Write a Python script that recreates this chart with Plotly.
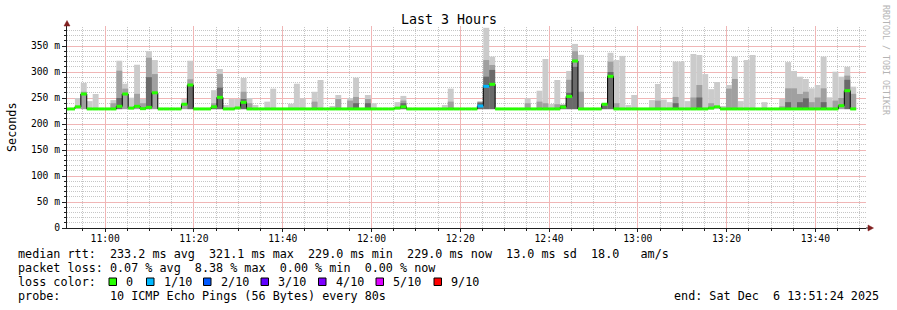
import math
import plotly.graph_objects as go
import pandas as pd

# ---------------- data ----------------
START = "2025-12-06 10:50:31"      # start of first (partial) 80 s step
STEP_S = 80
X_RANGE = ["2025-12-06 10:51:24", "2025-12-06 13:51:24"]
N_PINGS = 10

# median rtt per step (ms); first value is the partial step at the left edge
median_ms = [
    229.0,
    229.0, 233.0, 257.7, 229.0, 229.0, 229.0, 229.0, 229.0, 234.0, 257.7,
    230.5, 234.0, 229.5, 232.0, 260.0, 229.0, 229.0, 229.0, 229.0, 238.0,
    275.0, 229.0, 229.0, 229.0, 233.0, 251.3, 229.0, 229.0, 230.8, 241.7,
    229.0, 229.0, 229.0, 229.0, 229.0, 229.0, 229.0, 229.0, 229.0, 229.0,
    229.0, 229.0, 229.0, 229.0, 229.0, 229.0, 229.0, 229.0, 229.0, 229.0,
    229.0, 229.0, 229.0, 229.0, 229.0, 230.5, 233.0, 229.0, 229.0, 229.0,
    229.0, 229.0, 229.0, 229.0, 229.0, 229.0, 229.0, 229.0, 229.0, 234.6,
    272.5, 276.3, 229.0, 229.0, 229.0, 229.0, 229.0, 229.0, 229.0, 229.0,
    229.0, 229.0, 229.0, 232.5, 253.0, 321.1, 229.0, 229.0, 229.0, 229.0,
    238.0, 291.7, 229.0, 229.0, 229.0, 229.0, 229.0, 229.0, 229.0, 229.0,
    229.0, 229.0, 229.0, 229.0, 229.0, 229.0, 229.0, 229.0, 230.5, 233.0,
    229.0, 229.0, 229.0, 229.0, 229.0, 229.0, 229.0, 229.0, 229.0, 229.0,
    229.0, 229.0, 229.0, 229.0, 229.0, 229.0, 229.0, 229.0, 229.0, 229.0,
    235.2, 264.0, 229.0,
]

# lost pings (out of 10) per step
loss_pings = [
    0,
    0, 0, 0, 0, 0, 0, 0, 0, 0, 0,
    0, 0, 0, 0, 0, 0, 0, 0, 0, 0,
    0, 0, 0, 0, 0, 0, 0, 0, 0, 0,
    0, 0, 0, 0, 0, 0, 0, 0, 0, 0,
    0, 0, 0, 0, 0, 0, 0, 0, 0, 0,
    0, 0, 0, 0, 0, 0, 0, 0, 0, 0,
    0, 0, 0, 0, 0, 0, 0, 0, 0, 1,
    1, 0, 0, 0, 0, 0, 0, 0, 0, 0,
    0, 0, 0, 0, 0, 0, 0, 0, 0, 0,
    0, 0, 0, 0, 0, 0, 0, 0, 0, 0,
    0, 0, 0, 0, 0, 0, 0, 0, 0, 0,
    0, 0, 0, 0, 0, 0, 0, 0, 0, 0,
    0, 0, 0, 0, 0, 0, 0, 0, 0, 0,
    0, 0, 0,
]

# smoke: fastest ping and upper edges of the light / mid / dark smoke bands (ms)
smoke_min_ms = 228.6
smoke_hi = [
    None,
    None, 250.0, 279.0, 244.0, 257.7, None, None, 246.0, 321.7, 277.5,
    250.6, 314.0, 248.0, 340.0, 323.0, None, None, None, None, 248.0,
    321.7, None, None, None, 265.0, 305.8, 236.5, 248.0, 248.0, 288.5,
    250.0, 236.5, None, 243.0, 268.0, None, None, 239.0, 277.5, 249.4,
    None, 262.0, 284.6, None, 234.6, 255.8, None, 250.0, 289.0, None,
    255.8, 240.0, None, None, None, 242.0, 254.0, None, None, None,
    None, None, None, 236.5, 268.0, None, None, None, None, 243.0,
    385.0, 329.5, None, None, None, None, None, 249.4, None, 264.0,
    325.0, 238.5, 284.6, 238.5, 302.0, 354.0, 333.0, None, None, None,
    240.0, 337.0, 323.0, 331.0, 236.5, 255.8, None, None, 246.0, 277.0,
    247.0, 242.0, 320.0, 320.0, 244.0, 334.6, 332.7, 296.0, 267.0, 280.8,
    234.6, 275.0, 329.5, 244.0, 323.0, 332.7, None, 242.0, None, None,
    248.0, 319.0, 302.0, 291.0, 286.5, 268.6, 275.0, 329.5, 251.3, 300.6,
    291.0, 310.0, 271.8,
]
smoke_mid = [
    None,
    None, None, 262.0, None, None, None, None, 240.0, 302.5, 268.0,
    None, 258.0, 240.0, 327.5, 296.0, None, None, None, None, 240.0,
    286.0, None, None, None, 240.0, 296.0, None, None, None, 262.0,
    240.0, None, None, None, None, None, None, None, None, None,
    None, 243.0, None, None, None, 248.0, None, 245.0, 252.0, None,
    248.0, None, None, None, None, None, 245.0, None, None, None,
    None, None, None, None, 243.0, None, None, None, None, 243.0,
    323.0, 313.5, None, None, None, None, None, 240.0, None, 243.0,
    240.0, None, 238.0, 236.0, 285.0, 340.0, 262.0, None, None, None,
    238.0, 320.0, 240.0, None, None, None, None, None, None, 245.0,
    None, None, 252.0, None, None, 251.0, 275.0, None, 240.0, None,
    None, 268.0, 286.5, None, None, None, None, None, None, None,
    234.0, 268.6, 268.6, 257.7, 262.0, 242.0, 251.0, 268.6, None, 245.0,
    250.0, 293.0, 258.0,
]
smoke_dark = [
    None,
    None, None, None, None, None, None, None, None, 250.0, None,
    None, None, None, 290.0, None, None, None, None, None, None,
    275.0, None, None, None, 235.0, 270.0, None, None, None, 248.0,
    None, None, None, None, None, None, None, None, None, None,
    None, None, None, None, None, None, None, None, 240.0, None,
    240.0, None, None, None, None, None, 240.0, None, None, None,
    None, None, None, None, None, None, None, None, None, 241.0,
    291.0, 304.0, None, None, None, None, None, None, None, None,
    None, None, None, 236.0, 260.0, 310.0, None, None, None, None,
    236.0, 300.0, None, None, None, None, None, None, None, None,
    None, None, 240.0, None, None, None, 251.0, None, None, None,
    None, None, None, None, None, None, None, None, None, None,
    None, 242.0, None, 242.0, 249.4, None, None, 242.0, None, None,
    None, 285.0, None,
]

y_tickvals = [0, 50, 100, 150, 200, 250, 300, 350]
y_ticktext = ["0", "50 m", "100 m", "150 m", "200 m", "250 m", "300 m", "350 m"]
y_minor_step = 10
y_major_step = 50
x_major_min = 20
x_minor_min = 5

loss_levels = [0, 1, 2, 3, 4, 5, 9]
loss_labels = ["0", "1/10", "2/10", "3/10", "4/10", "5/10", "9/10"]
loss_colors = ["#26ff00", "#00b8ff", "#0059ff", "#5e00ff", "#7e00ff", "#dd00ff", "#ff0000"]

title_text = "Last 3 Hours"
y_title = "Seconds"
legend_rtt = "median rtt:  233.2 ms avg  321.1 ms max  229.0 ms min  229.0 ms now  13.0 ms sd  18.0   am/s"
legend_loss = "packet loss: 0.07 % avg  8.38 % max  0.00 % min  0.00 % now"
legend_color_title = "loss color:"
legend_probe = "probe:       10 ICMP Echo Pings (56 Bytes) every 80s"
legend_end = "end: Sat Dec  6 13:51:24 2025"
watermark = "RRDTOOL / TOBI OETIKER"

# ---------------- geometry / style ----------------
FIG_W, FIG_H = 897, 310
L, R, T, B = 67, 866, 26, 228
PW, PH = R - L, B - T
PX_PER_MS = 0.52
Y_MAX = PH / PX_PER_MS
FONT = "DejaVu Sans Mono"
SMOKE_COLORS = ["#cbcbcb", "#a0a0a0", "#6a6a6a"]
AXIS_C = "#1f1f1f"
GRID_C = "#c6c6c6"
MGRID_C = "#f0b6b6"
ARROW_C = "#801f1f"


def px(xp):
    return (xp - L) / PW


def py(yp):
    return (B - yp) / PH


def nb(s):
    return s.replace(" ", "\u00a0")


n = len(median_ms)
starts = pd.date_range(START, periods=n, freq=f"{STEP_S}s")
ends = starts + pd.Timedelta(seconds=STEP_S)
centers = starts + pd.Timedelta(seconds=STEP_S / 2)

fig = go.Figure()

# smoke bands
for band, col in zip([smoke_hi, smoke_mid, smoke_dark], SMOKE_COLORS):
    fig.add_trace(go.Bar(
        x=centers, y=[None if v is None else v - smoke_min_ms for v in band],
        base=smoke_min_ms, width=STEP_S * 1000, marker=dict(color=col, line=dict(width=0)),
        hoverinfo="skip", showlegend=False,
    ))

# black median step outline
fig.add_trace(go.Scatter(
    x=list(starts) + [ends[-1]], y=list(median_ms) + [median_ms[-1]],
    mode="lines", line=dict(color="#000000", width=1, shape="hv"),
    hoverinfo="skip", showlegend=False,
))

# median segments coloured by loss
for lvl, col in zip(loss_levels, loss_colors):
    xs, ys = [], []
    for s, e, m, lp in zip(starts, ends, median_ms, loss_pings):
        if lp == lvl:
            xs += [s, e, None]
            ys += [m, m, None]
    if xs:
        fig.add_trace(go.Scatter(x=xs, y=ys, mode="lines",
                                 line=dict(color=col, width=3),
                                 hoverinfo="skip", showlegend=False))

fig.update_layout(
    width=FIG_W, height=FIG_H, autosize=False,
    margin=dict(l=L, r=FIG_W - R, t=T, b=FIG_H - B, pad=0),
    paper_bgcolor="#ffffff", plot_bgcolor="#ffffff",
    barmode="overlay", showlegend=False,
    font=dict(family=FONT, color="#000000"),
    xaxis=dict(
        type="date", range=X_RANGE, tick0="2025-12-06 11:00", dtick=x_major_min * 60 * 1000,
        tickformat="%H:%M", tickfont=dict(family=FONT, size=9.7, color="#000000"),
        showgrid=False, showline=True, linecolor=AXIS_C, linewidth=1,
        ticks="outside", ticklen=3, tickcolor=AXIS_C, zeroline=False,
        ticklabelstandoff=-2,
        minor=dict(dtick=x_minor_min * 60 * 1000, tick0="2025-12-06 11:00", showgrid=False,
                   ticks="outside", ticklen=2, tickcolor=AXIS_C),
    ),
    yaxis=dict(
        range=[0, Y_MAX], tickvals=y_tickvals, ticktext=y_ticktext,
        tickfont=dict(family=FONT, size=9.7, color="#000000"),
        showgrid=False, showline=True, linecolor=AXIS_C, linewidth=1,
        ticks="outside", ticklen=4, tickcolor=AXIS_C, zeroline=False,
        minor=dict(dtick=y_minor_step, tick0=0, showgrid=False,
                   ticks="outside", ticklen=2, tickcolor=AXIS_C),
    ),
)

shapes = []
# grid below the data, snapped to pixel centres:
# minor = 1px dotted gray, major = pale red line
x_lo = pd.Timestamp(X_RANGE[0])
x_span = (pd.Timestamp(X_RANGE[1]) - x_lo).total_seconds()
grid_times = pd.date_range("2025-12-06 10:55", "2025-12-06 13:50", freq=f"{x_minor_min}min")
minor_sh, major_sh = [], []
for gt in grid_times:
    major = (gt.minute % x_major_min == 0)
    xpix = math.floor(L + (gt - x_lo).total_seconds() / x_span * PW) + 0.5
    if major:
        major_sh.append(dict(type="line", layer="below", xref="paper", yref="paper",
                             x0=px(xpix), x1=px(xpix), y0=0, y1=1,
                             line=dict(color=MGRID_C, width=1)))
    else:
        minor_sh.append(dict(type="line", layer="below", xref="paper", yref="paper",
                             x0=px(xpix), x1=px(xpix), y0=0, y1=1,
                             line=dict(color=GRID_C, width=1, dash="1px,1px")))
gv = y_minor_step
while gv < Y_MAX:
    major = (gv % y_major_step == 0)
    ypix = math.floor(B - gv * PX_PER_MS) + 0.5
    if major:
        major_sh.append(dict(type="line", layer="below", xref="paper", yref="paper",
                             x0=0, x1=1, y0=py(ypix), y1=py(ypix),
                             line=dict(color=MGRID_C, width=1)))
    else:
        minor_sh.append(dict(type="line", layer="below", xref="paper", yref="paper",
                             x0=0, x1=1, y0=py(ypix), y1=py(ypix),
                             line=dict(color=GRID_C, width=1, dash="1px,1px")))
    gv += y_minor_step
shapes += minor_sh + major_sh

ann = []


def text(t, xp, yp, size, xanchor="left", color="#000000", angle=0):
    ann.append(dict(text=nb(t), x=px(xp), y=py(yp), xref="paper", yref="paper",
                    xanchor=xanchor, yanchor="middle", showarrow=False, textangle=angle,
                    font=dict(family=FONT, size=size, color=color)))


text(title_text, 448.5, 19.5, 13.3, xanchor="center")
text(y_title, 12, 127, 11.75, xanchor="center", angle=-90)
text(watermark, 886, 60, 8.3, xanchor="center", color="#b4b4b4", angle=90)
text(legend_rtt, 16, 254, 11.75)
text(legend_loss, 16, 268, 11.75)
text(legend_color_title, 16, 282, 11.75)
text(legend_probe, 16, 296, 11.75)
text(legend_end, 881, 296, 11.75, xanchor="right")

box_x = [109, 146.5, 203.5, 261, 318.5, 376, 434]
for bx, lab, col in zip(box_x, loss_labels, loss_colors):
    shapes.append(dict(type="rect", xref="paper", yref="paper",
                       x0=px(bx), x1=px(bx + 7.5), y0=py(285.5), y1=py(278),
                       fillcolor=col, line=dict(color="#000000", width=1)))
    text(lab, bx + 15, 282, 11.75)

# y axis arrow (top)
shapes.append(dict(type="path", xref="paper", yref="paper",
                   path=f"M {px(64)},{py(26)} L {px(70)},{py(26)} L {px(67)},{py(20.5)} Z",
                   fillcolor=ARROW_C, line=dict(color=ARROW_C, width=0.5)))
# x axis extension + arrow (right)
shapes.append(dict(type="line", xref="paper", yref="paper",
                   x0=px(866), x1=px(869), y0=py(228), y1=py(228),
                   line=dict(color=AXIS_C, width=1)))
shapes.append(dict(type="path", xref="paper", yref="paper",
                   path=f"M {px(868)},{py(225)} L {px(868)},{py(231)} L {px(873.5)},{py(228)} Z",
                   fillcolor=ARROW_C, line=dict(color=ARROW_C, width=0.5)))

fig.update_layout(annotations=ann, shapes=shapes)
fig.write_html("out.html")
